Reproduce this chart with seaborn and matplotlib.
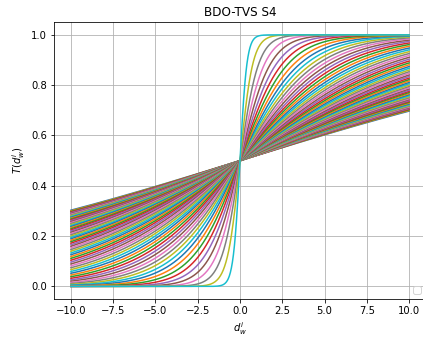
import numpy as np
import pandas as pd
import matplotlib
matplotlib.use("Agg")
import matplotlib.pyplot as plt
import seaborn as sns

# Time-varying S4 transfer function parameters
tau_max = 4.0
tau_min = 0.01
n_iter = 70
x_range = (-10.0, 10.0)
n_points = 1000

title = "BDO-TVS S4"
xlabel = r"$d_w^i$"
ylabel = r"$T(d_w^i)$"

xs = np.linspace(x_range[0], x_range[1], n_points)
rows = []
for t in range(n_iter):
    tau = (1 - t / n_iter) * tau_max + (t / n_iter) * tau_min
    ys = 1.0 / (1.0 + np.exp(-xs / (3 * tau)))
    rows.append(pd.DataFrame({"x": xs, "T": ys, "iter": t}))
df = pd.concat(rows, ignore_index=True)

W, H = 423, 339
dpi = 72
fig = plt.figure(figsize=(W / dpi, H / dpi), dpi=dpi)
ax = fig.add_axes([54 / W, 40 / H, (426 - 54) / W, (316.7 - 40) / H])

tab10 = sns.color_palette("tab10", 10)
palette = [tab10[i % 10] for i in range(n_iter)]
sns.lineplot(data=df, x="x", y="T", hue="iter", palette=palette,
             legend=False, linewidth=1.5, ax=ax, estimator=None, sort=False)

ax.set_title(title, fontsize=12)
ax.set_xlabel(xlabel, fontsize=10)
ax.set_ylabel(ylabel, fontsize=10)
ax.set_xlim(-11, 11)
ax.set_ylim(-0.05, 1.05)
ax.set_xticks([-10, -7.5, -5, -2.5, 0, 2.5, 5, 7.5, 10])
ax.set_yticks([0, 0.2, 0.4, 0.6, 0.8, 1.0])
ax.grid(True)
ax.legend(loc="lower right")

fig.savefig("out.png", dpi=dpi)
